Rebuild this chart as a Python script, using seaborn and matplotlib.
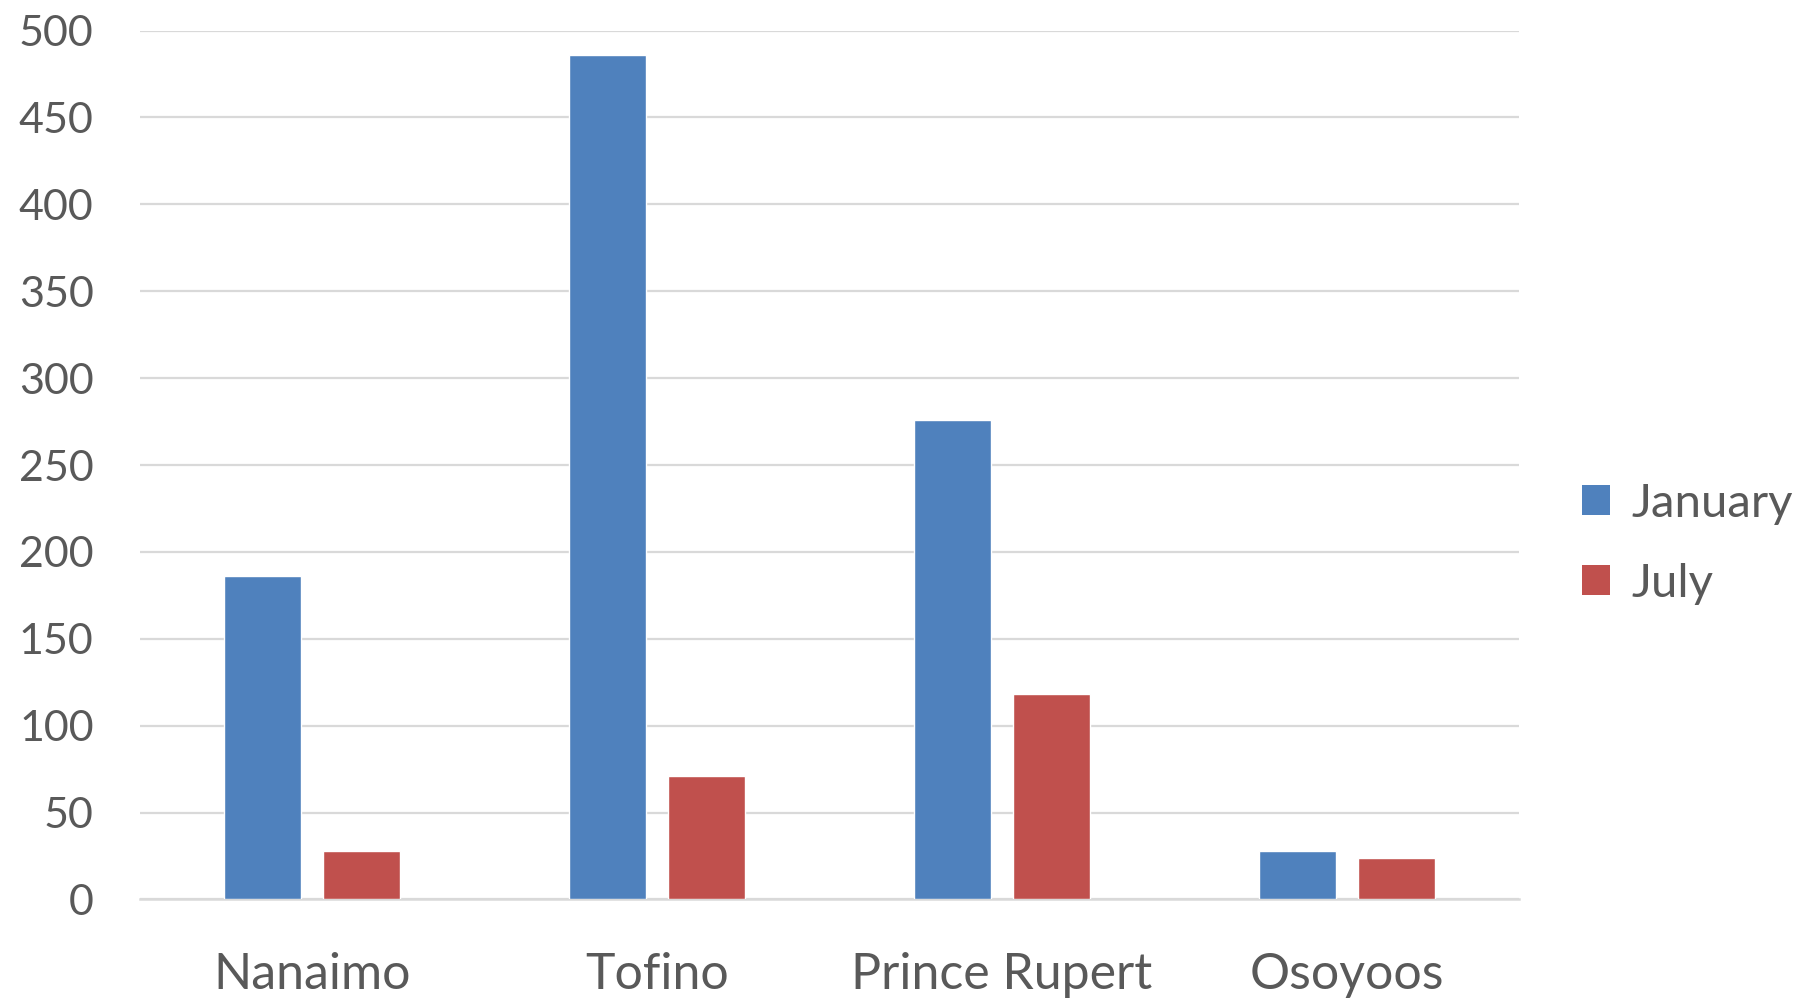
import pandas as pd
import seaborn as sns
import matplotlib.pyplot as plt
from matplotlib.patches import Patch

# --- data ---
cities = ["Nanaimo", "Tofino", "Prince Rupert", "Osoyoos"]
january = [186, 486, 276, 28]
july = [28, 71, 118, 24]
months = ["January", "July"]
y_ticks = [0, 50, 100, 150, 200, 250, 300, 350, 400, 450, 500]

df = pd.DataFrame({
    "City": cities * 2,
    "Value": january + july,
    "Month": ["January"] * len(cities) + ["July"] * len(cities),
})

sns.set_theme(style="white")
plt.rcParams['font.family'] = ['Lato', 'DejaVu Sans']
text_color = "#595959"
grid_color = "#d9d9d9"
palette = {"January": "#4F81BD", "July": "#C0504D"}

fig = plt.figure(figsize=(17.98, 9.98), dpi=100)
ax = fig.add_axes([0.0776, 0.0987, 0.7675, 0.8707])

sns.barplot(data=df, x="City", y="Value", hue="Month", palette=palette,
            width=0.57, gap=0.2175, saturation=1, legend=False, ax=ax, zorder=3)

ax.set_ylim(0, 500)
ax.set_xlim(-0.5, len(cities) - 0.5)
ax.set_yticks(y_ticks)
ax.yaxis.grid(True, color=grid_color, linewidth=1.6, zorder=0)
ax.set_axisbelow(True)
for side in ["top", "right", "left"]:
    ax.spines[side].set_visible(False)
ax.spines["bottom"].set_color(grid_color)
ax.spines["bottom"].set_linewidth(1.8)

ax.tick_params(axis="y", length=0, pad=33, labelsize=31, labelcolor=text_color)
ax.tick_params(axis="x", length=0, pad=38, labelsize=36, labelcolor=text_color)
ax.set_xlabel("")
ax.set_ylabel("")

handles = [Patch(facecolor=palette[m], edgecolor="none", label=m) for m in months]
fig.legend(handles=handles, loc="center left", bbox_to_anchor=(0.856, 0.455),
           frameon=False, fontsize=34, labelcolor=text_color,
           handlelength=0.6, handleheight=0.6, handletextpad=0.45, labelspacing=0.8)

plt.savefig("out.png", dpi=100)
